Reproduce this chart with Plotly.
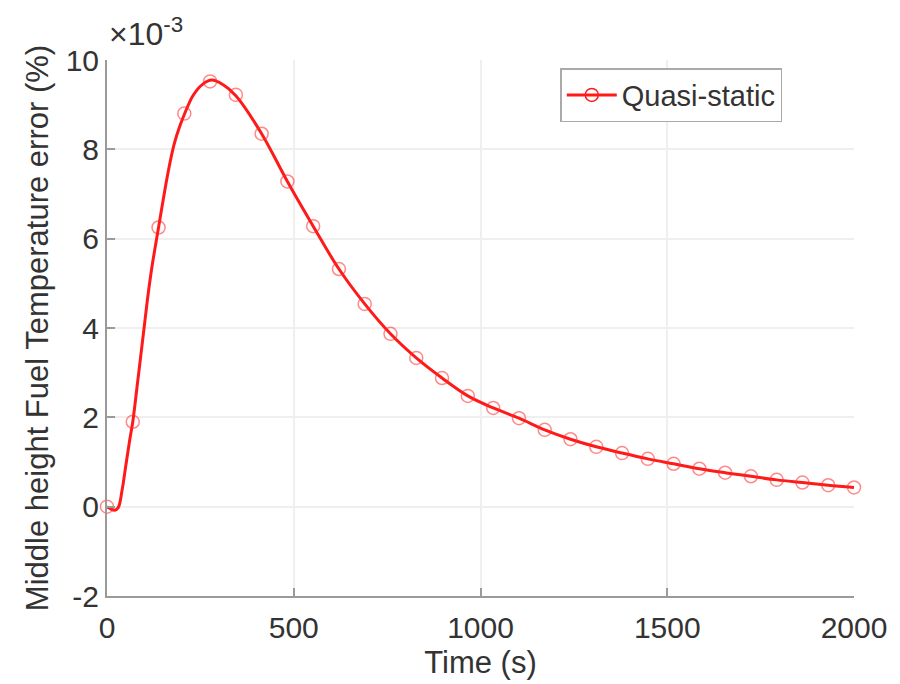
import plotly.graph_objects as go

# Fuel temperature error, values in units of 1e-3 %
LINE_T = [0, 10, 20, 30, 40, 50, 60, 69, 80, 90, 100, 110, 120, 138, 150, 165, 180,
          195, 207, 230, 255, 281, 310, 345, 414, 483, 552, 621, 690, 759, 828, 897,
          966, 1034, 1103, 1172, 1241, 1310, 1379, 1448, 1517, 1586, 1655, 1724,
          1793, 1862, 1931, 2000]
LINE_Y = [0.0, -0.05, -0.08, -0.02, 0.35, 0.9, 1.45, 1.90, 2.65, 3.35, 4.05, 4.75,
          5.35, 6.25, 6.85, 7.55, 8.12, 8.52, 8.78, 9.2, 9.45, 9.55, 9.45, 9.2,
          8.35, 7.28, 6.28, 5.32, 4.54, 3.87, 3.33, 2.88, 2.48, 2.21, 1.98, 1.72,
          1.51, 1.34, 1.20, 1.07, 0.96, 0.85, 0.76, 0.68, 0.60, 0.54, 0.48, 0.43]

MARK_T = [0, 69, 138, 207, 276, 345, 414, 483, 552, 621, 690, 759, 828, 897, 966,
          1034, 1103, 1172, 1241, 1310, 1379, 1448, 1517, 1586, 1655, 1724, 1793,
          1862, 1931, 2000]
MARK_Y = [0.0, 1.90, 6.25, 8.80, 9.52, 9.22, 8.35, 7.28, 6.28, 5.32, 4.54, 3.87,
          3.33, 2.88, 2.48, 2.21, 1.98, 1.72, 1.51, 1.34, 1.20, 1.07, 0.96, 0.85,
          0.76, 0.68, 0.60, 0.54, 0.48, 0.43]

X_TICKS = [0, 500, 1000, 1500, 2000]
Y_TICKS = [-2, 0, 2, 4, 6, 8, 10]
Y_TICK_TEXT = ["-2", "0", "2", "4", "6", "8", "10"]

RED = "#ff1a1a"
TEXT = "#333333"
AXIS = "#9a9a9a"
GRID = "#efefef"
FONT = "Liberation Sans, Arial, sans-serif"

fig = go.Figure()
fig.add_trace(
    go.Scatter(
        x=LINE_T,
        y=LINE_Y,
        mode="lines",
        line={"color": RED, "width": 3, "shape": "spline", "smoothing": 1.0},
        showlegend=False,
        hoverinfo="skip",
    )
)
fig.add_trace(
    go.Scatter(
        x=MARK_T,
        y=MARK_Y,
        mode="markers",
        marker={"symbol": "circle-open", "size": 13, "color": "rgba(255,40,40,0.55)",
                "line": {"width": 1.5}},
        cliponaxis=False,
        showlegend=False,
    )
)
# legend entry (line + marker)
fig.add_trace(
    go.Scatter(
        x=[None],
        y=[None],
        mode="lines+markers",
        name="Quasi-static",
        line={"color": RED, "width": 3},
        marker={"symbol": "circle-open", "size": 13, "color": RED, "line": {"width": 1.5}},
    )
)

fig.add_annotation(
    text="×10<sup>-3</sup>",
    xref="paper",
    yref="paper",
    x=0.0,
    y=1.0,
    xanchor="left",
    yanchor="bottom",
    yshift=6,
    showarrow=False,
    font={"size": 32, "color": TEXT, "family": FONT},
)

# the page body adds an 8 px offset, so margins are shifted to match
fig.update_layout(
    width=900,
    height=684,
    paper_bgcolor="white",
    plot_bgcolor="white",
    font={"family": FONT, "color": TEXT, "size": 30},
    margin={"l": 99, "r": 54, "t": 52, "b": 96},
    legend={
        "x": 0.904,
        "y": 0.985,
        "xanchor": "right",
        "yanchor": "top",
        "bgcolor": "white",
        "bordercolor": "#aaaaaa",
        "borderwidth": 1.5,
        "font": {"size": 29, "color": TEXT},
        "itemwidth": 50,
    },
)
fig.update_xaxes(
    range=[0, 2000],
    tickvals=X_TICKS,
    showgrid=True,
    gridcolor=GRID,
    gridwidth=1.5,
    zeroline=False,
    showline=True,
    linecolor=AXIS,
    linewidth=2,
    ticks="inside",
    ticklen=8,
    tickcolor=AXIS,
    tickwidth=1.5,
    ticklabelstandoff=4,
    tickfont={"size": 30, "color": TEXT},
    title={"text": "Time (s)", "font": {"size": 31, "color": TEXT}, "standoff": 8},
)
fig.update_yaxes(
    range=[-2, 10],
    tickvals=Y_TICKS,
    ticktext=Y_TICK_TEXT,
    showgrid=True,
    gridcolor=GRID,
    gridwidth=1.5,
    zeroline=False,
    showline=True,
    linecolor=AXIS,
    linewidth=2,
    ticks="inside",
    ticklen=8,
    tickcolor=AXIS,
    tickwidth=1.5,
    tickfont={"size": 30, "color": TEXT},
    title={"text": "Middle height Fuel Temperature error (%)",
           "font": {"size": 31, "color": TEXT}, "standoff": 8},
)

fig.write_html("out.html")
